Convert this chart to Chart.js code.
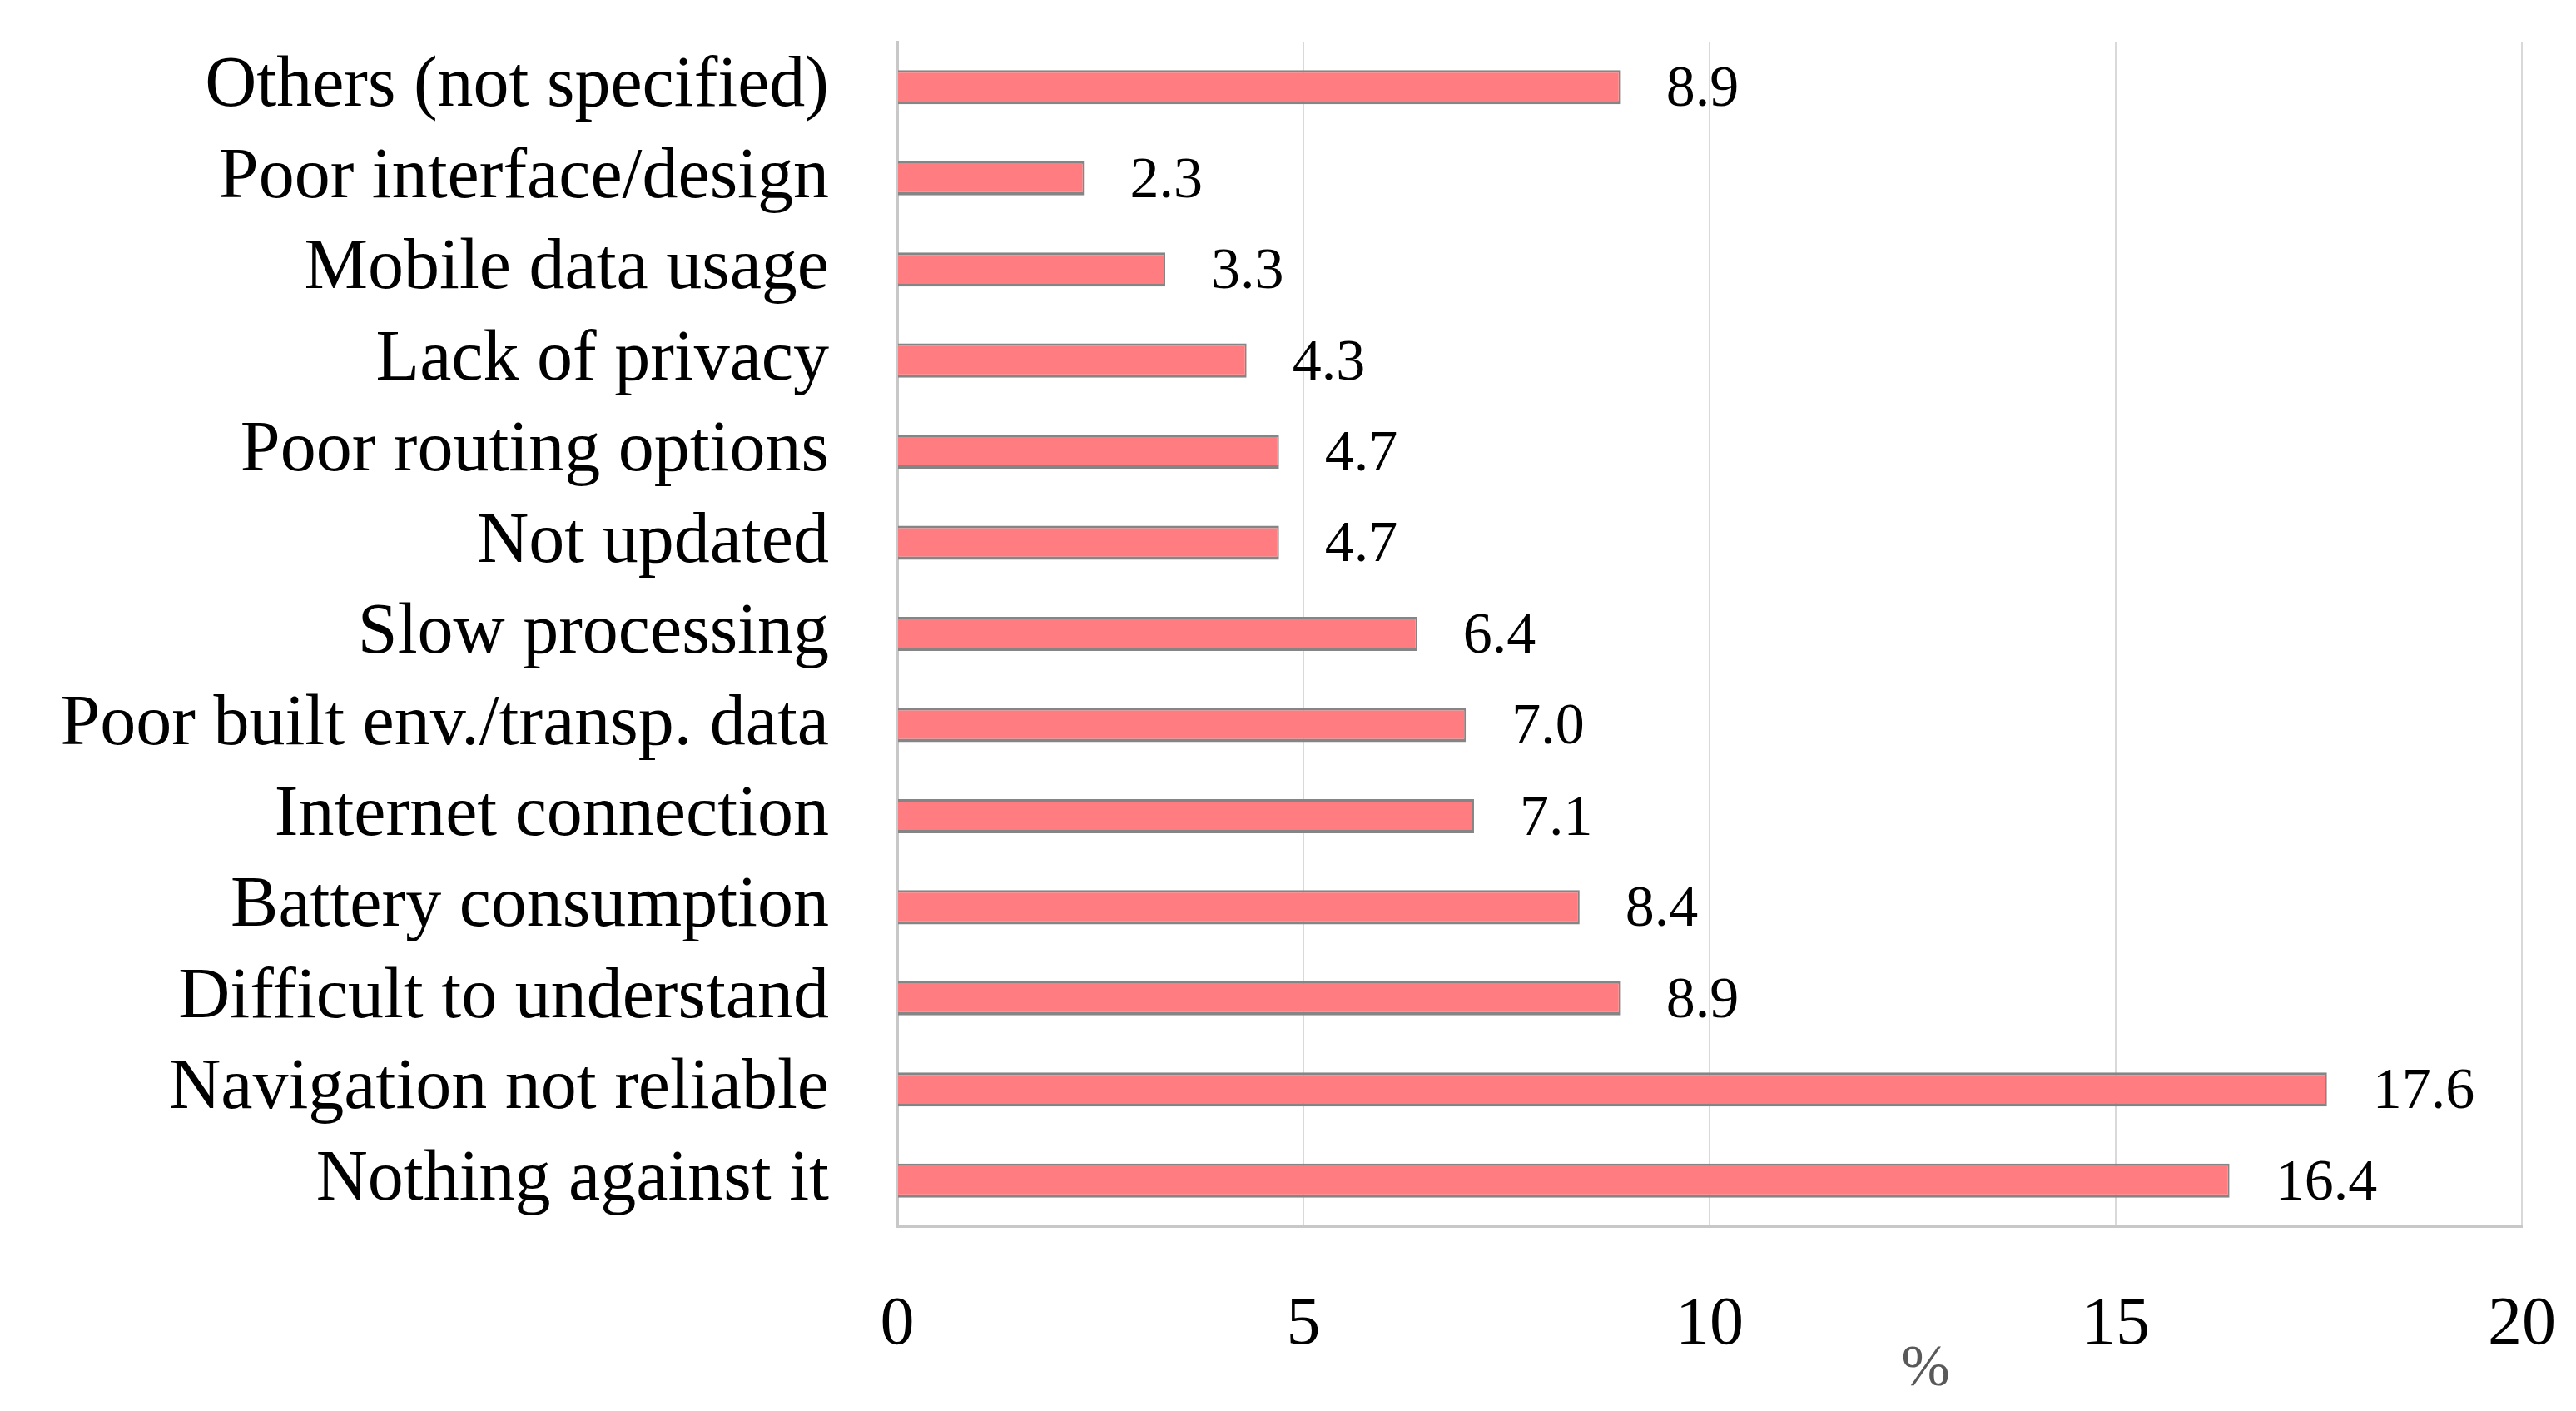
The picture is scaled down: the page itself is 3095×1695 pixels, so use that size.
<!DOCTYPE html>
<html>
<head>
<meta charset="utf-8">
<script src="https://cdn.jsdelivr.net/npm/chart.js@4/dist/chart.umd.min.js"></script>
<style>
html,body{margin:0;padding:0;background:#fff;}
#wrap{width:3095px;height:1695px;}
</style>
</head>
<body>
<div id="wrap"><canvas id="c" width="3095" height="1695"></canvas></div>
<script>
const categories = ["Others (not specified)","Poor interface/design","Mobile data usage","Lack of privacy","Poor routing options","Not updated","Slow processing","Poor built env./transp. data","Internet connection","Battery consumption","Difficult to understand","Navigation not reliable","Nothing against it"];
const values = [8.9,2.3,3.3,4.3,4.7,4.7,6.4,7.0,7.1,8.4,8.9,17.6,16.4];
const xTicks = [0,5,10,15,20];
const xTitle = "%";

const valueLabels = {
  id:'valueLabels',
  afterDatasetsDraw(chart){
    const ctx = chart.ctx;
    const meta = chart.getDatasetMeta(0);
    ctx.save();
    ctx.font = '70px "Liberation Serif"';
    ctx.fillStyle = '#000';
    ctx.textAlign = 'left';
    ctx.textBaseline = 'middle';
    meta.data.forEach((bar,i)=>{
      ctx.fillText(values[i].toFixed(1), bar.x + 55, bar.y + 4);
    });
    // axis title
    const a = chart.chartArea;
    ctx.font = '70px "Liberation Serif"';
    ctx.fillStyle = '#595959';
    ctx.textAlign = 'center';
    ctx.fillText(xTitle, a.left + (a.right - a.left) * 0.633, 1646);
    ctx.restore();
  }
};

Chart.defaults.devicePixelRatio = 1;
new Chart(document.getElementById('c'), {
  type:'bar',
  data:{
    labels:categories,
    datasets:[{
      data:values,
      backgroundColor:'#FF7C80',
      borderColor:'#858585',
      borderWidth:{top:3,bottom:4,right:2,left:0},
      borderSkipped:false,
      categoryPercentage:1,
      barPercentage:0.375
    }]
  },
  options:{
    indexAxis:'y',
    responsive:false,
    animation:false,
    layout:{padding:{left:0,right:65,top:50,bottom:0}},
    plugins:{legend:{display:false},tooltip:{enabled:false}},
    scales:{
      x:{
        min:0,max:20,
        afterBuildTicks(s){ s.ticks = xTicks.map(v=>({value:v})); },
        afterFit(s){ s.height = 222; s.paddingLeft = 0; s.paddingRight = 0; },
        grid:{color:'#D9D9D9',lineWidth:2,drawTicks:false},
        border:{color:'#C8C8C8',width:4},
        ticks:{font:{family:'Liberation Serif',size:82},color:'#000',padding:70,maxRotation:0}
      },
      y:{
        afterFit(s){ s.width = 1078; s.paddingTop = 0; s.paddingBottom = 0; },
        grid:{display:false,drawTicks:false},
        border:{color:'#C8C8C8',width:3},
        ticks:{font:{family:'Liberation Serif',size:86},color:'#000',padding:82,autoSkip:false}
      }
    }
  },
  plugins:[valueLabels]
});
</script>
</body>
</html>
